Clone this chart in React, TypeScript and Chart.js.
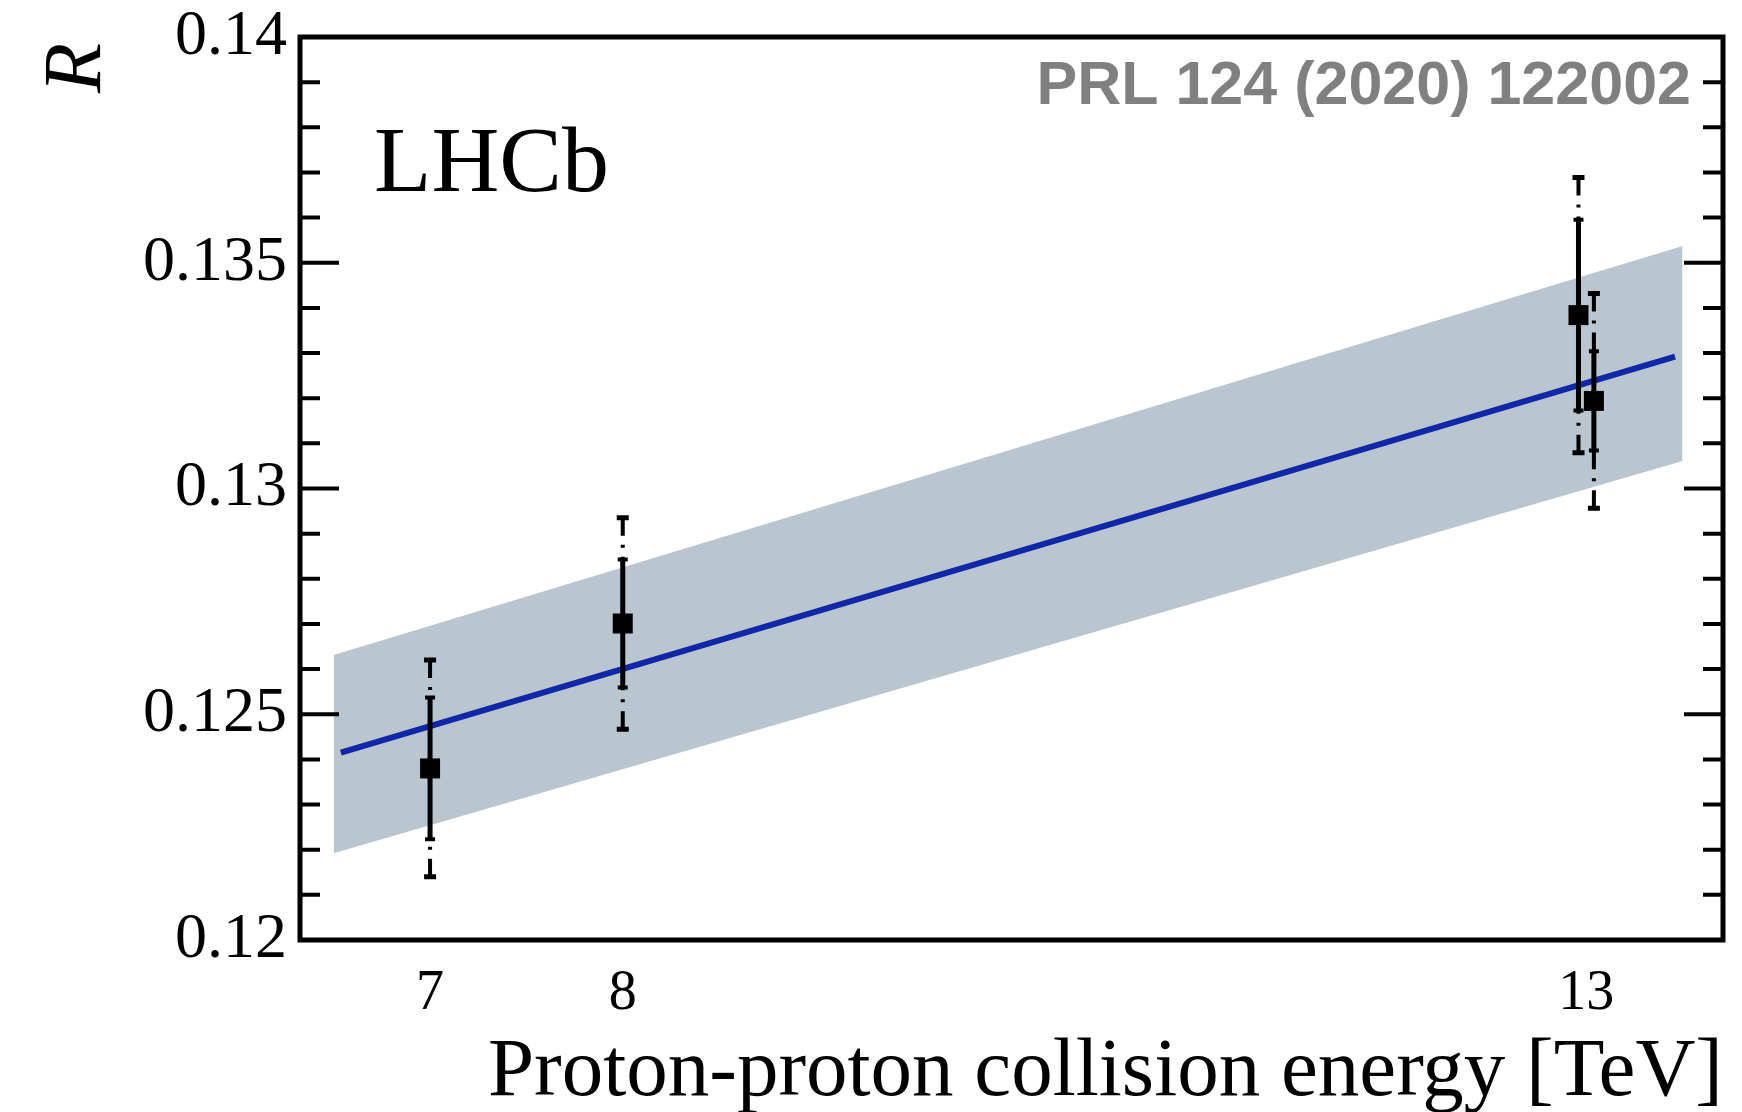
import { useEffect, useRef } from "react";
import { Chart, registerables } from "chart.js";

Chart.register(...registerables);

// Measured ratio R at each collision energy (the two 13 TeV points are offset slightly for display)
const energies = [7, 8, 12.96, 13.04];
const rValues = [0.1238, 0.12701, 0.13384, 0.13194];
const statErr = [0.00157, 0.00142, 0.00211, 0.0011];
const totalErr = [0.0024, 0.00234, 0.00305, 0.00238];

// Prediction band and central line
const bandEnergy = [6.5, 13.5];
const bandLow = [0.12192, 0.13061];
const bandHigh = [0.12631, 0.13537];
const fitEnergy = [6.537, 13.461];
const fitR = [0.12415, 0.13292];

// Axis ticks
const xTickValues = [7, 8, 13];
const yTickValues = [0.12, 0.125, 0.13, 0.135, 0.14];
const yTickLabels = ["0.12", "0.125", "0.13", "0.135", "0.14"];

const SERIF = '"Liberation Serif", "Times New Roman", serif';
const SANS = '"Liberation Sans", Arial, Helvetica, sans-serif';

const errorBarPlugin = {
  id: "errorBars",
  afterDatasetsDraw(chart: any) {
    const { ctx } = chart;
    const xs = chart.scales.x;
    const ys = chart.scales.y;
    ctx.save();
    ctx.strokeStyle = "#000";
    for (let i = 0; i < energies.length; i++) {
      const px = xs.getPixelForValue(energies[i]);
      const sHi = ys.getPixelForValue(rValues[i] + statErr[i]);
      const sLo = ys.getPixelForValue(rValues[i] - statErr[i]);
      const tHi = ys.getPixelForValue(rValues[i] + totalErr[i]);
      const tLo = ys.getPixelForValue(rValues[i] - totalErr[i]);

      // outer (total) uncertainty: dash-dotted, drawn from the outer end inward
      ctx.setLineDash([18, 9, 3, 9]);
      ctx.lineWidth = 4;
      ctx.beginPath();
      ctx.moveTo(px, tHi);
      ctx.lineTo(px, sHi);
      ctx.moveTo(px, tLo);
      ctx.lineTo(px, sLo);
      ctx.stroke();
      ctx.setLineDash([]);
      ctx.lineWidth = 5;
      ctx.beginPath();
      ctx.moveTo(px - 6, tHi);
      ctx.lineTo(px + 6, tHi);
      ctx.moveTo(px - 6, tLo);
      ctx.lineTo(px + 6, tLo);
      ctx.stroke();

      // inner (statistical) uncertainty: solid
      ctx.lineWidth = 5;
      ctx.beginPath();
      ctx.moveTo(px, sHi);
      ctx.lineTo(px, sLo);
      ctx.stroke();
      ctx.lineWidth = 4;
      ctx.beginPath();
      ctx.moveTo(px - 5, sHi);
      ctx.lineTo(px + 5, sHi);
      ctx.moveTo(px - 5, sLo);
      ctx.lineTo(px + 5, sLo);
      ctx.stroke();
    }
    ctx.restore();
  },
};

const framePlugin = {
  id: "frame",
  afterDraw(chart: any) {
    const { ctx, chartArea } = chart;
    const { left, right, top, bottom } = chartArea;
    const ys = chart.scales.y;
    ctx.save();
    ctx.strokeStyle = "#000";

    // inward ticks on left and right axes
    ctx.lineWidth = 4;
    ctx.beginPath();
    for (let k = 1; k < 20; k++) {
      const v = 0.12 + k * 0.001;
      const py = ys.getPixelForValue(v);
      const len = k % 5 === 0 ? 39 : 20;
      ctx.moveTo(left, py);
      ctx.lineTo(left + len, py);
      ctx.moveTo(right, py);
      ctx.lineTo(right - len, py);
    }
    ctx.stroke();

    // frame
    ctx.lineWidth = 5;
    ctx.strokeRect(left, top, right - left, bottom - top);

    // y-axis title, rotated, at the top end of the axis
    ctx.save();
    ctx.translate(100, 93);
    ctx.rotate(-Math.PI / 2);
    ctx.fillStyle = "#000";
    ctx.textAlign = "left";
    ctx.textBaseline = "alphabetic";
    ctx.font = `italic 82px ${SERIF}`;
    ctx.fillText("R", 0, 0);
    ctx.restore();

    // labels inside the frame
    ctx.fillStyle = "#000";
    ctx.textBaseline = "alphabetic";
    ctx.textAlign = "left";
    ctx.font = `94px ${SERIF}`;
    ctx.fillText("LHCb", 374, 191);

    ctx.fillStyle = "#808080";
    ctx.textAlign = "right";
    ctx.font = `bold 61px ${SANS}`;
    ctx.fillText("PRL 124 (2020) 122002", 1691, 104);
    ctx.restore();
  },
};

export default function App() {
  const canvasRef = useRef<HTMLCanvasElement | null>(null);

  useEffect(() => {
    const canvas = canvasRef.current;
    if (!canvas) return;

    const chart = new Chart(canvas, {
      type: "scatter",
      data: {
        datasets: [
          {
            label: "LHCb",
            data: energies.map((e, i) => ({ x: e, y: rValues[i] })),
            pointStyle: "rect",
            pointRadius: 14.14,
            pointBackgroundColor: "#000",
            pointBorderWidth: 0,
            showLine: false,
            order: 0,
          },
          {
            label: "prediction",
            data: fitEnergy.map((e, i) => ({ x: e, y: fitR[i] })),
            showLine: true,
            borderColor: "#1027a8",
            borderWidth: 6,
            pointRadius: 0,
            fill: false,
            order: 1,
          },
          {
            label: "band low",
            data: bandEnergy.map((e, i) => ({ x: e, y: bandLow[i] })),
            showLine: true,
            borderColor: "rgba(0,0,0,0)",
            borderWidth: 0,
            pointRadius: 0,
            fill: false,
            order: 3,
          },
          {
            label: "band high",
            data: bandEnergy.map((e, i) => ({ x: e, y: bandHigh[i] })),
            showLine: true,
            borderColor: "rgba(0,0,0,0)",
            backgroundColor: "#b9c5cf",
            borderWidth: 0,
            pointRadius: 0,
            fill: 2,
            order: 2,
          },
        ],
      },
      options: {
        responsive: false,
        animation: false,
        events: [],
        layout: { padding: { top: 37, right: 19, bottom: 0, left: 0 } },
        plugins: {
          legend: { display: false },
          tooltip: { enabled: false },
        },
        scales: {
          x: {
            type: "linear",
            min: 6.325,
            max: 13.71,
            grid: { display: false, drawTicks: false },
            border: { display: false },
            afterBuildTicks: (s: any) => {
              s.ticks = xTickValues.map((v) => ({ value: v }));
            },
            afterFit: (s: any) => {
              s.height = 172;
              s.paddingLeft = 0;
              s.paddingRight = 0;
            },
            ticks: {
              color: "#000",
              autoSkip: false,
              maxRotation: 0,
              padding: 26,
              font: { family: SERIF, size: 56, lineHeight: 1 },
              callback: (v: any) => String(v),
            },
            title: {
              display: true,
              text: "Proton-proton collision energy [TeV]",
              align: "end",
              color: "#000",
              font: { family: SERIF, size: 83, lineHeight: 0.9 },
              padding: { top: 0, bottom: 1 },
            },
          },
          y: {
            type: "linear",
            min: 0.12,
            max: 0.14,
            grid: { display: false, drawTicks: false },
            border: { display: false },
            afterBuildTicks: (s: any) => {
              s.ticks = yTickValues.map((v) => ({ value: v }));
            },
            afterFit: (s: any) => {
              s.width = 300;
              s.paddingTop = 0;
              s.paddingBottom = 0;
            },
            ticks: {
              color: "#000",
              autoSkip: false,
              padding: 13,
              font: { family: SERIF, size: 64, lineHeight: 1 },
              callback: (v: any) => {
                const idx = yTickValues.findIndex((t) => Math.abs(t - v) < 1e-9);
                return idx >= 0 ? yTickLabels[idx] : "";
              },
            },
          },
        },
      },
      plugins: [errorBarPlugin, framePlugin],
    } as any);

    return () => chart.destroy();
  }, []);

  return (
    <div style={{ position: "fixed", left: 0, top: 0, width: 1742, height: 1112, background: "#fff" }}>
      <canvas ref={canvasRef} width={1742} height={1112} style={{ display: "block", width: 1742, height: 1112 }} />
    </div>
  );
}
